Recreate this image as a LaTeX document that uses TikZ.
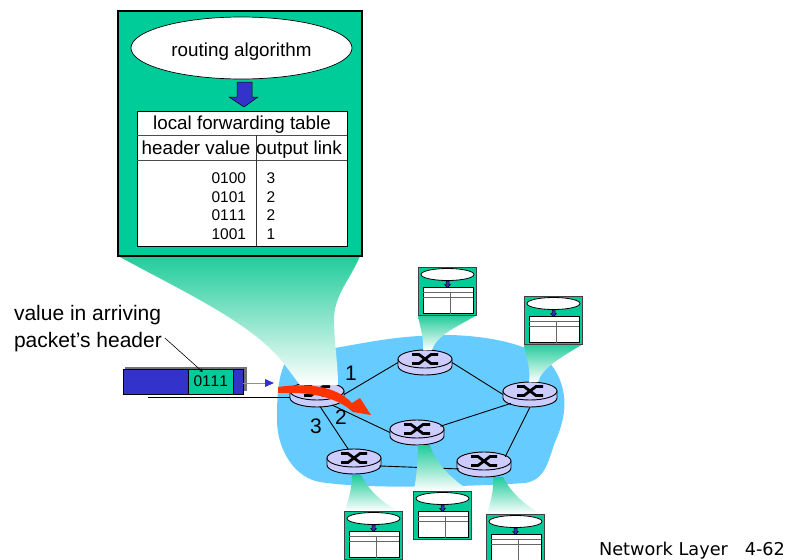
\documentclass[tikz,border=0pt]{standalone}
\usepackage{fontspec}
\setmainfont{Liberation Sans}
\newfontfamily\pagefont{DejaVu Sans}
\usetikzlibrary{shapes.geometric,calc}

\definecolor{cloudblue}{HTML}{66CCFF}
\definecolor{boxgreen}{HTML}{00CC99}
\definecolor{conegreen}{HTML}{20CC9A}
\definecolor{routerlilac}{HTML}{CCCCFF}
\definecolor{pktblue}{HTML}{3333CC}
\definecolor{flowred}{HTML}{FF3300}

\tikzset{
  routeredge/.style={ellipse,minimum width=54pt,minimum height=25pt,inner sep=0pt},
  routertop/.style={ellipse,draw=black,fill=routerlilac,line width=0.9pt,minimum width=54pt,minimum height=18pt,inner sep=0pt},
  routerside/.style={draw=black,fill=routerlilac,line width=0.9pt},
  routercross/.style={draw=black,line width=2.8pt},
  linkline/.style={draw=black,line width=0.9pt},
  cone/.style={top color=conegreen,bottom color=white},
  downarrow/.style={draw=black,fill=pktblue,line width=0.5pt},
  cell/.style={font=\fontsize{18.8}{20}\selectfont,inner sep=0pt,text height=13pt,text depth=0pt},
  smallcell/.style={font=\fontsize{15.5}{17}\selectfont\addfontfeatures{Kerning=Off},inner sep=0pt},
  biglabel/.style={font=\fontsize{21}{27}\selectfont,inner sep=0pt},
}

\newcommand{\router}[2]{%
  \begin{scope}[shift={(#2)}]
    \node[routeredge] (#1) at (0,3.5) {};
    \path[routerside] (-27,0) -- (-27,7) arc[start angle=180,end angle=0,x radius=27,y radius=9] -- (27,0) -- cycle;
    \node[routertop] (#1top) at (0,0) {};
    \draw[routercross] (-13,-4.5) -- (-6,-4.5) -- (6,4.5) -- (13,4.5);
    \draw[routercross] (-13,4.5) -- (-6,4.5) -- (6,-4.5) -- (13,-4.5);
  \end{scope}}

\newcommand{\tinytable}[2]{%
  \begin{scope}[shift={(#2)}]
    \node[draw=black!75,fill=boxgreen,line width=1.2pt,minimum width=58pt,minimum height=48pt,inner sep=0pt,anchor=north west] (#1) at (0.5,0.5) {};
    \node[ellipse,draw=black,fill=white,line width=0.8pt,minimum width=53pt,minimum height=12pt,inner sep=0pt] (#1algo) at (29.5,7.5) {};
    \path[downarrow] (28,14) -- (31,14) -- (31,17.5) -- (32.5,17.5) -- (29.5,20.5) -- (26.5,17.5) -- (28,17.5) -- cycle;
    \node[draw=black,fill=white,line width=1pt,minimum width=50pt,minimum height=26pt,inner sep=0pt,anchor=north west] (#1tab) at (5,20.5) {};
    \draw[black!60,line width=1pt] (5,25.5) -- (55,25.5) (5,30) -- (55,30) (32.5,25.5) -- (32.5,46.5);
  \end{scope}}

\begin{document}
\begin{tikzpicture}[x=1pt,y=-1pt,every node/.style={outer sep=0pt}]
\useasboundingbox (0,0) rectangle (788,560);

% cloud
\fill[cloudblue] (284,365) .. controls (295,358) and (315,352) .. (335,348)
  .. controls (370,342) and (400,335) .. (450,335)
  .. controls (490,336) and (540,345) .. (555,370)
  .. controls (570,395) and (565,420) .. (555,442)
  .. controls (548,462) and (545,480) .. (525,483)
  .. controls (480,486) and (370,490) .. (320,482)
  .. controls (295,478) and (277,450) .. (277,420)
  .. controls (277,395) and (278,380) .. (284,365) -- cycle;

% routers
\router{rleft}{317,391}
\router{rtop}{425,359}
\router{rright}{530,391}
\router{rmid}{417,429}
\router{rlow}{354,458}
\router{rend}{484,461}

% links
\draw[linkline] (rleft.east) -- (rtop.west);
\draw[linkline] (rleft.-35) -- (rmid.west);
\draw[linkline] (rleft.-75) -- (rlow.115);
\draw[linkline] (rtop.east) -- (rright.west);
\draw[linkline] (rright.205) -- (rmid.15);
\draw[linkline] (rright.south) -- (rend.20);
\draw[linkline] (rlow.-10) -- (rend.190);

% cones
\shade[cone] (118,256) -- (360,256) .. controls (350,280) and (334,295) .. (334,320)
  .. controls (334,340) and (338,365) .. (338,385) -- (300,385) -- (285,365)
  .. controls (255,325) and (190,295) .. (118,256) -- cycle;
\shade[cone] (418,315) -- (477,315) .. controls (455,328) and (437,335) .. (432,350) -- (423,350) .. controls (424,338) and (420,328) .. (418,315) -- cycle;
\shade[cone] (524,344) -- (583,344) .. controls (560,358) and (542,368) .. (538,382) -- (529,382) .. controls (531,368) and (526,358) .. (524,344) -- cycle;
\shade[cone] (345,511) -- (398,511) .. controls (378,500) and (368,488) .. (361,475) -- (352,475) .. controls (352,490) and (348,500) .. (345,511) -- cycle;
\shade[cone] (414,491) -- (470,491) .. controls (450,478) and (435,462) .. (430,445) -- (418,445) .. controls (418,465) and (416,478) .. (414,491) -- cycle;
\shade[cone] (487,514) -- (541,514) .. controls (520,502) and (510,490) .. (503,477) -- (493,477) .. controls (494,492) and (490,503) .. (487,514) -- cycle;

% small boxes
\tinytable{boxa}{418,267}
\tinytable{boxb}{524,296}
\tinytable{boxc}{344,511}
\tinytable{boxd}{413,491}
\tinytable{boxe}{486,514}

% large box
\node[draw=black,fill=boxgreen,line width=2pt,minimum width=244pt,minimum height=245pt,inner sep=0pt,anchor=north west] (bigbox) at (117.5,11) {};
\node[ellipse,draw=black,fill=white,line width=0.7pt,minimum width=221pt,minimum height=62pt,inner sep=0pt,cell,text height=16pt] (algo) at (241.5,48) {routing algorithm};
\path[downarrow] (237,82) -- (252,82) -- (252,97) -- (258,97) -- (244,107) -- (229,97) -- (237,97) -- cycle;
\node[draw=black,fill=white,line width=0.7pt,minimum width=210pt,minimum height=135pt,inner sep=0pt,anchor=north west] (fwdtab) at (137,111) {};
\draw[black!70,line width=0.7pt] (137,135) -- (347,135) (137,160) -- (347,160);
\draw[black!80,line width=0.7pt] (256,135) -- (256,246);
\node[cell] (fwdtitle) at (242,123) {local forwarding table};
\node[cell] (hdrval) at (196,148) {header value};
\node[cell] (outlink) at (299,148) {output link};
\foreach \val/\lnk/\ypos [count=\i] in {0100/3/178,0101/2/197,0111/2/215,1001/1/234}
{
  \node[smallcell,anchor=east] (val\i) at (246,\ypos) {\val};
  \node[smallcell] (lnk\i) at (271,\ypos) {\lnk};
}

% packet
\fill[black!55] (125,367) rectangle (247,391);
\node[draw=black,fill=pktblue,line width=0.6pt,minimum width=120pt,minimum height=25pt,inner sep=0pt,anchor=north west] (pkt) at (123,369) {};
\node[draw=black,fill=boxgreen,line width=0.6pt,minimum width=44.5pt,minimum height=25pt,inner sep=0pt,anchor=north west,smallcell] (pktval) at (188.5,369) {0111};
\coordinate (arrivein) at (274,383);
\draw[pktblue!60,line width=1pt] (pkt.east |- arrivein) -- (266,383);
\fill[pktblue] (arrivein) -- (265,379) -- (265,387) -- cycle;
\coordinate (inlink) at (148,397);
\draw[black,line width=0.7pt] (inlink) -- (inlink -| rleft.west);

% labels
\node[biglabel,align=left,anchor=west] (hdrnote) at (14,329) {value in arriving\\packet's header};
\draw[black,line width=0.6pt,-stealth] ([yshift=-9pt,xshift=3pt]hdrnote.east) -- ([xshift=-8pt,yshift=-3pt]pktval.north);
\node[biglabel] (portone) at (351,373) {1};
\node[biglabel] (porttwo) at (341,417) {2};
\node[biglabel] (portthree) at (316,426) {3};

% red arrow
\fill[flowred] (278,387) .. controls (305,383) and (335,385) .. (352,403) -- (360,398) -- (371,415) -- (353,412) -- (348,408)
  .. controls (330,395) and (305,392) .. (278,393) -- cycle;

\node[font=\pagefont\fontsize{17.7}{20}\selectfont,inner sep=0pt,anchor=east] (pagenum) at (785,551) {Network Layer\ \ \ 4-62};
\end{tikzpicture}
\end{document}
